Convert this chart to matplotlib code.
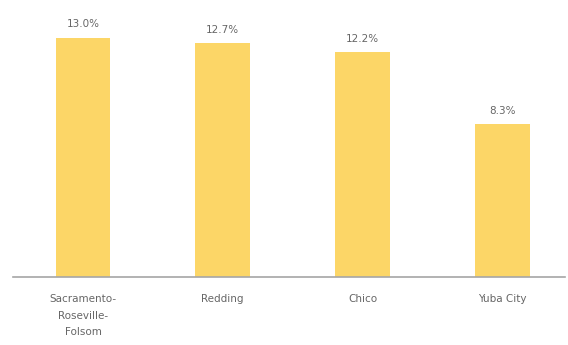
import matplotlib.pyplot as plt

# data
areas = ['Sacramento-\nRoseville-\nFolsom', 'Redding', 'Chico', 'Yuba City']
rates = [13.0, 12.7, 12.2, 8.3]

fig = plt.figure(figsize=(5.68, 3.45), dpi=100)
ax = fig.add_axes([0.023, 0.197, 0.972, 0.747])

x = range(len(areas))
ax.bar(x, rates, width=0.39, color='#FCD667')
for i, v in enumerate(rates):
    ax.text(i, v + 0.45, f'{v:.1f}%', ha='center', va='bottom',
            fontsize=7.5, color='#666666')

ax.set_xlim(-0.5, 3.45)
ax.set_ylim(0, 14)
ax.set_xticks(list(x))
ax.set_xticklabels(areas, fontsize=7.5, color='#666666', linespacing=1.85)
ax.tick_params(axis='x', length=0, pad=12)
ax.set_yticks([])
for s in ['top', 'right', 'left']:
    ax.spines[s].set_visible(False)
ax.spines['bottom'].set_color('#A6A6A6')
ax.spines['bottom'].set_linewidth(1.2)

fig.savefig('out.png')
